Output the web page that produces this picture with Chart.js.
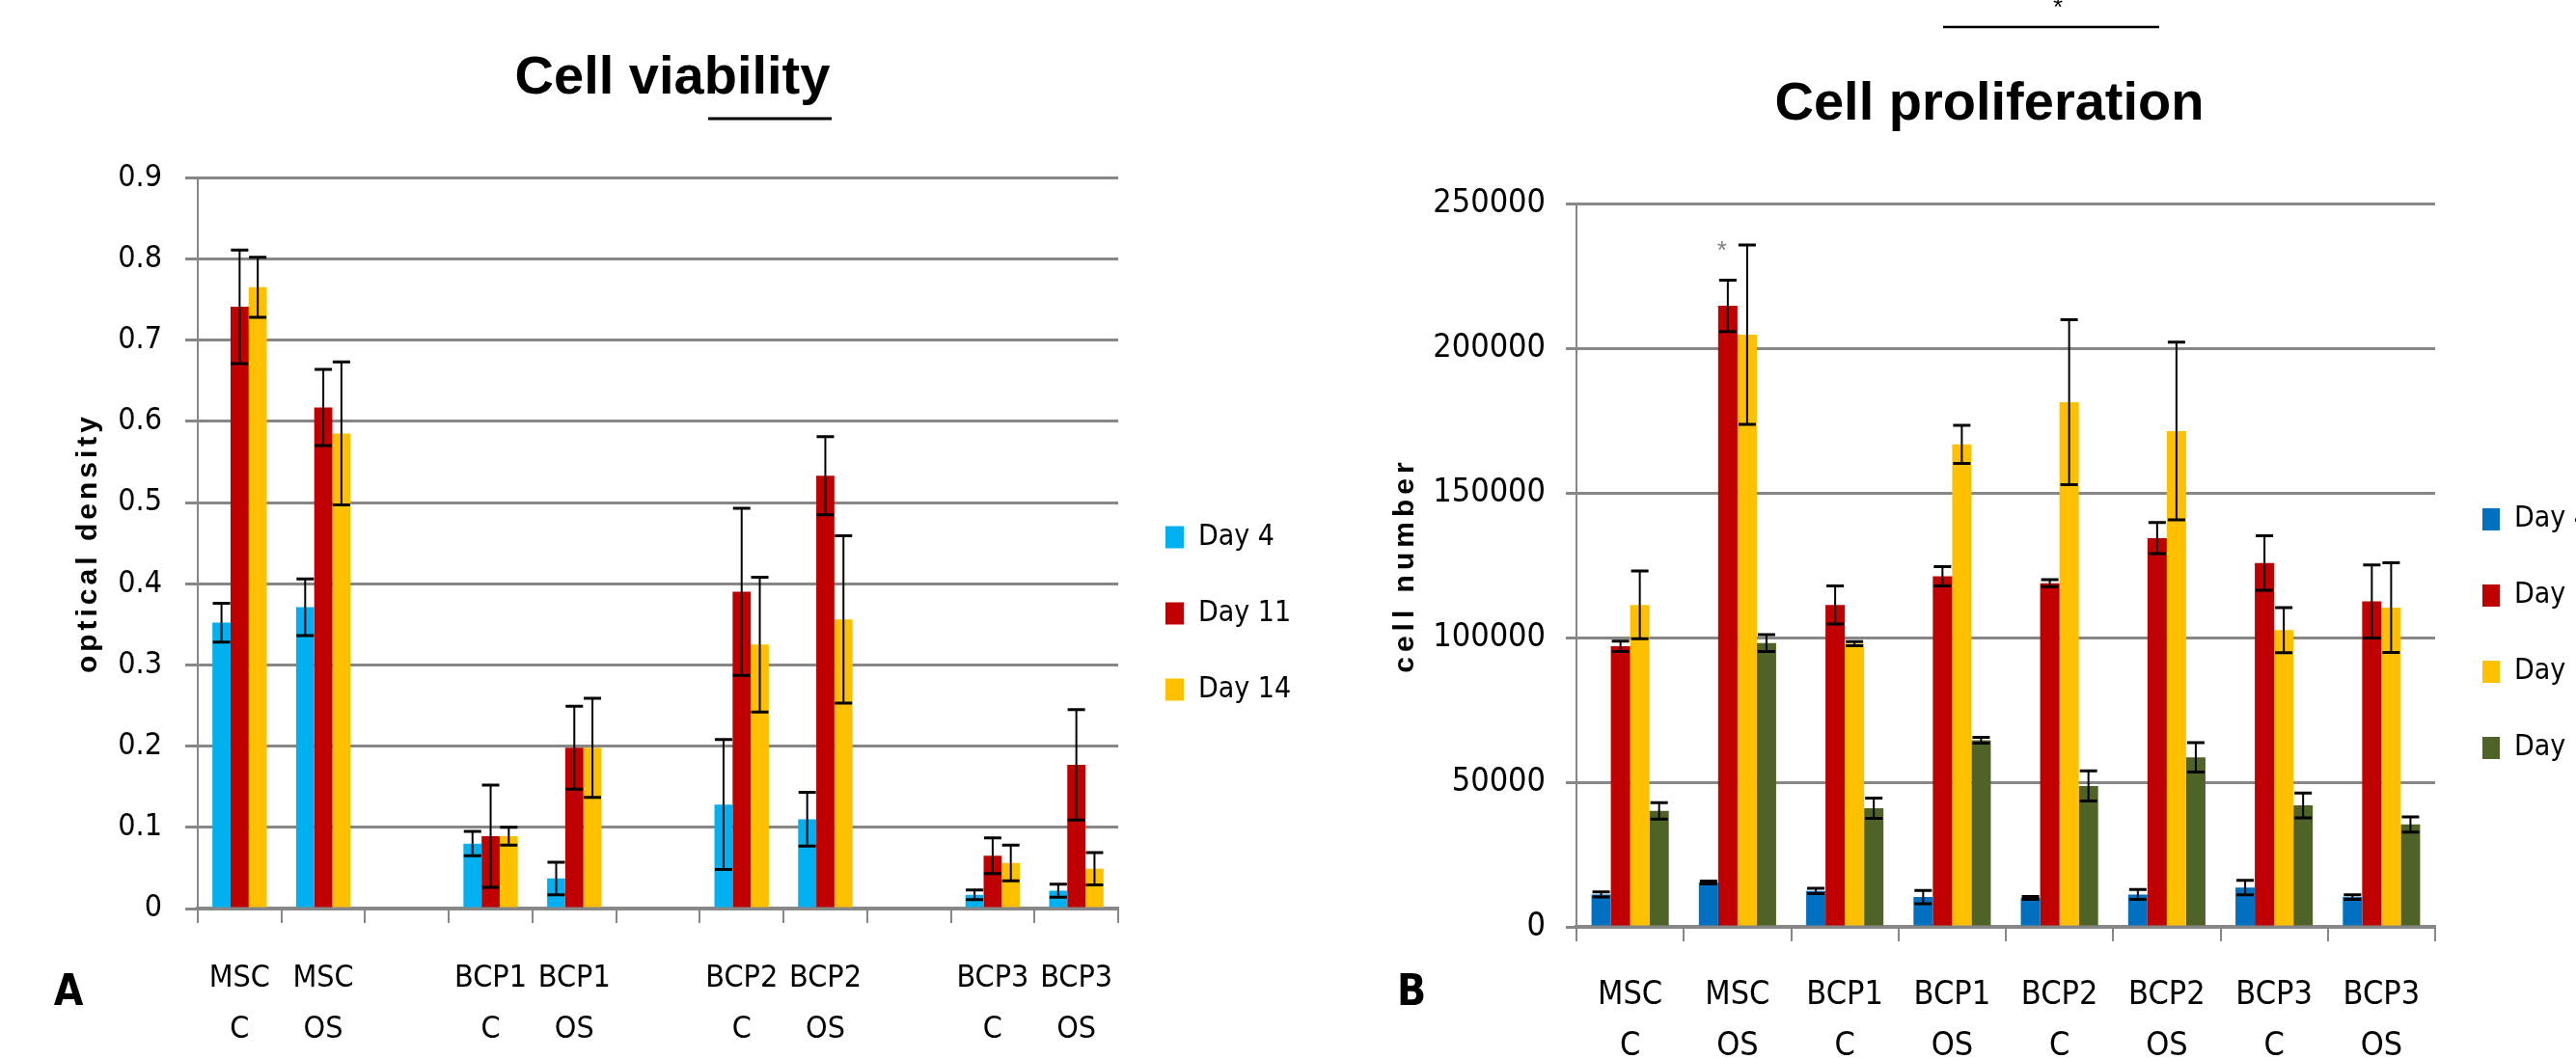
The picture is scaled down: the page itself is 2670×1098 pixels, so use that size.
<!DOCTYPE html>
<html>
<head>
<meta charset="utf-8">
<script src="https://cdn.jsdelivr.net/npm/chart.js@4"></script>
<style>
  html, body { margin: 0; padding: 0; background: #fff; overflow: hidden; width: 2670px; height: 1098px; }
  canvas { position: absolute; top: 0; }
  #viability { left: 0; }
  #proliferation { left: 1400px; }
</style>
</head>
<body>
<canvas id="viability" width="1338" height="1098"></canvas>
<canvas id="proliferation" width="1302" height="1098"></canvas>
<script>
// panel A - cell viability (optical density)
var viabilityLabels = [['MSC', 'C'], ['MSC', 'OS'], '', ['BCP1', 'C'], ['BCP1', 'OS'], '', ['BCP2', 'C'], ['BCP2', 'OS'], '', ['BCP3', 'C'], ['BCP3', 'OS']];
var viabilityDay4 = [0.352, 0.371, null, 0.080, 0.037, null, 0.128, 0.110, null, 0.017, 0.022];
var viabilityDay4Err = [0.024, 0.035, null, 0.015, 0.020, null, 0.080, 0.033, null, 0.006, 0.008];
var viabilityDay11 = [0.741, 0.617, null, 0.089, 0.198, null, 0.390, 0.533, null, 0.065, 0.177];
var viabilityDay11Err = [0.070, 0.047, null, 0.063, 0.051, null, 0.103, 0.048, null, 0.022, 0.068];
var viabilityDay14 = [0.765, 0.585, null, 0.089, 0.198, null, 0.325, 0.356, null, 0.056, 0.049];
var viabilityDay14Err = [0.037, 0.088, null, 0.011, 0.061, null, 0.083, 0.103, null, 0.022, 0.020];

// panel B - cell proliferation (cell number)
var prolifLabels = [['MSC', 'C'], ['MSC', 'OS'], ['BCP1', 'C'], ['BCP1', 'OS'], ['BCP2', 'C'], ['BCP2', 'OS'], ['BCP3', 'C'], ['BCP3', 'OS']];
var prolifDay4 = [11200, 15300, 12400, 10300, 10000, 11200, 13600, 10300];
var prolifDay4Err = [900, 500, 900, 2300, 500, 1700, 2500, 800];
var prolifDay7 = [97000, 214700, 111300, 121200, 118800, 134400, 125800, 112500];
var prolifDay7Err = [1800, 8900, 6600, 3300, 1200, 5400, 9400, 12600];
var prolifDay11 = [111300, 204700, 97900, 166800, 181400, 171400, 102600, 110400];
var prolifDay11Err = [11700, 31000, 700, 6600, 28500, 30700, 7800, 15500];
var prolifDay14 = [40100, 98100, 41000, 64500, 48700, 58600, 42000, 35400];
var prolifDay14Err = [2800, 2900, 3500, 1000, 5200, 5100, 4300, 2600];

var NARROW = "'DejaVu Sans Condensed', 'Liberation Sans Narrow', sans-serif";
var WIDE = "'Liberation Sans', Arial, sans-serif";
var GRID = '#878787';

Chart.defaults.font.family = NARROW;
Chart.defaults.color = '#000';

// black error bars with caps, read from dataset.errors
var errorBars = {
    id: 'errorBars',
    afterDatasetsDraw: function(chart) {
        var ctx = chart.ctx;
        var y = chart.scales.y;
        chart.data.datasets.forEach(function(ds, i) {
            var meta = chart.getDatasetMeta(i);
            meta.data.forEach(function(bar, j) {
                var v = ds.data[j], e = ds.errors[j];
                if (v == null || e == null) return;
                var top = y.getPixelForValue(v + e);
                var bot = y.getPixelForValue(v - e);
                ctx.save();
                ctx.strokeStyle = '#000';
                ctx.lineWidth = 2;
                ctx.beginPath();
                ctx.moveTo(bar.x, top);
                ctx.lineTo(bar.x, bot);
                ctx.stroke();
                ctx.lineWidth = 3;
                ctx.beginPath();
                ctx.moveTo(bar.x - 9, top);
                ctx.lineTo(bar.x + 9, top);
                ctx.moveTo(bar.x - 9, bot);
                ctx.lineTo(bar.x + 9, bot);
                ctx.stroke();
                ctx.restore();
            });
        });
    }
};

// keep the legend column at a set width so the plot area lands where it should
var fixedLegend = {
    id: 'fixedLegend',
    beforeLayout: function(chart, args, opts) {
        var lg = chart.legend;
        if (!lg || lg._fixed) return;
        var fit = lg.fit;
        lg.fit = function() {
            fit.call(this);
            this.width = opts.width;
        };
        lg._fixed = true;
    }
};

// axis title with letter spacing, panel letter, stray marks of the figure
var decor = {
    id: 'decor',
    afterDraw: function(chart, args, opts) {
        var ctx = chart.ctx;
        var y = chart.scales.y;
        ctx.save();
        ctx.translate(opts.axisTitleX, (y.top + y.bottom) / 2);
        ctx.rotate(-Math.PI / 2);
        ctx.font = 'bold 30px ' + WIDE;
        ctx.letterSpacing = opts.spacing;
        ctx.textAlign = 'center';
        ctx.textBaseline = 'middle';
        ctx.fillStyle = '#000';
        ctx.fillText(opts.axisTitle, 0, 0);
        ctx.restore();

        ctx.save();
        ctx.font = 'bold 44px ' + NARROW;
        ctx.textAlign = 'center';
        ctx.textBaseline = 'middle';
        ctx.fillStyle = '#000';
        ctx.fillText(opts.letter, opts.letterX, opts.letterY);

        ctx.strokeStyle = '#000';
        ctx.lineWidth = opts.line[3];
        ctx.beginPath();
        ctx.moveTo(opts.line[0], opts.line[2]);
        ctx.lineTo(opts.line[1], opts.line[2]);
        ctx.stroke();

        if (opts.topStar) {
            ctx.font = '26px ' + WIDE;
            ctx.fillText('*', opts.topStar[0], opts.topStar[1]);
        }
        if (opts.star) {
            var ds = chart.data.datasets[opts.star.dataset];
            var bar = chart.getDatasetMeta(opts.star.dataset).data[opts.star.index];
            var v = ds.data[opts.star.index] + ds.errors[opts.star.index];
            ctx.font = '26px ' + WIDE;
            ctx.fillStyle = '#7f7f7f';
            ctx.fillText('*', bar.x - 6, y.getPixelForValue(v) - 30);
        }
        ctx.restore();
    }
};

function xScale(fontSize, lineHeight, padding, height) {
    return {
        grid: { display: true, drawOnChartArea: false, drawTicks: true, tickLength: 15, offset: true, color: GRID, lineWidth: 2 },
        border: { display: true, color: GRID, width: 4 },
        ticks: { autoSkip: false, maxRotation: 0, padding: padding, font: { size: fontSize, lineHeight: lineHeight }, color: '#000' },
        afterFit: function(scale) { scale.height = height; }
    };
}

window.chart_viability = new Chart(document.getElementById('viability'), {
    type: 'bar',
    data: {
        labels: viabilityLabels,
        datasets: [{
            label: 'Day 4',
            data: viabilityDay4,
            errors: viabilityDay4Err,
            backgroundColor: '#00B0F0'
        }, {
            label: 'Day 11',
            data: viabilityDay11,
            errors: viabilityDay11Err,
            backgroundColor: '#C00000'
        }, {
            label: 'Day 14',
            data: viabilityDay14,
            errors: viabilityDay14Err,
            backgroundColor: '#FFC000'
        }]
    },
    options: {
        responsive: false,
        animation: false,
        devicePixelRatio: 1,
        layout: { padding: { left: 56, right: 0, top: 0, bottom: 0 } },
        datasets: { bar: { categoryPercentage: 0.65, barPercentage: 1 } },
        plugins: {
            title: {
                display: true,
                text: 'Cell viability',
                font: { family: WIDE, size: 56, weight: 'bold' },
                padding: { top: 48, bottom: 69 },
                color: '#000'
            },
            legend: {
                position: 'right',
                title: { display: true, text: ' ', font: { size: 10 }, padding: 81 },
                labels: { boxWidth: 19, boxHeight: 23, padding: 49, font: { size: 30 }, color: '#000' }
            },
            fixedLegend: { width: 179 },
            tooltip: { enabled: false },
            decor: {
                axisTitle: 'optical density',
                axisTitleX: 92,
                spacing: '4px',
                letter: 'A', letterX: 71, letterY: 1031,
                line: [734, 862, 123, 3]
            }
        },
        scales: {
            x: xScale(32, 1.63, 32, 156),
            y: {
                min: 0,
                max: 0.9,
                ticks: { stepSize: 0.1, padding: 24, font: { size: 32 }, color: '#000' },
                grid: { color: GRID, lineWidth: 3, tickLength: 13 },
                border: { display: true, color: GRID, width: 2 },
                afterFit: function(scale) { scale.width = 149; }
            }
        }
    },
    plugins: [errorBars, fixedLegend, decor]
});

window.chart_proliferation = new Chart(document.getElementById('proliferation'), {
    type: 'bar',
    data: {
        labels: prolifLabels,
        datasets: [{
            label: 'Day 4',
            data: prolifDay4,
            errors: prolifDay4Err,
            backgroundColor: '#0070C0'
        }, {
            label: 'Day 7',
            data: prolifDay7,
            errors: prolifDay7Err,
            backgroundColor: '#C00000'
        }, {
            label: 'Day 11',
            data: prolifDay11,
            errors: prolifDay11Err,
            backgroundColor: '#FFC000'
        }, {
            label: 'Day 14',
            data: prolifDay14,
            errors: prolifDay14Err,
            backgroundColor: '#4F6228'
        }]
    },
    options: {
        responsive: false,
        animation: false,
        devicePixelRatio: 1,
        layout: { padding: { left: 22, right: 0, top: 0, bottom: 0 } },
        datasets: { bar: { categoryPercentage: 0.72, barPercentage: 1 } },
        plugins: {
            title: {
                display: true,
                text: 'Cell proliferation',
                font: { family: WIDE, size: 56, weight: 'bold' },
                padding: { top: 75, bottom: 69 },
                color: '#000'
            },
            legend: {
                position: 'right',
                title: { display: true, text: ' ', font: { size: 10 }, padding: 102 },
                labels: { boxWidth: 18, boxHeight: 23, padding: 49, font: { size: 30 }, color: '#000' }
            },
            fixedLegend: { width: 178 },
            tooltip: { enabled: false },
            decor: {
                axisTitle: 'cell number',
                axisTitleX: 57,
                spacing: '5px',
                letter: 'B', letterX: 63, letterY: 1031,
                line: [614, 838, 28, 2.5],
                topStar: [733, 9],
                star: { dataset: 1, index: 1 }
            }
        },
        scales: {
            x: xScale(34, 1.56, 30, 137),
            y: {
                min: 0,
                max: 250000,
                ticks: { stepSize: 50000, padding: 21, font: { size: 34 }, color: '#000',
                    callback: function(v) { return String(v); } },
                grid: { color: GRID, lineWidth: 3, tickLength: 11 },
                border: { display: true, color: GRID, width: 2 },
                afterFit: function(scale) { scale.width = 212; }
            }
        }
    },
    plugins: [errorBars, fixedLegend, decor]
});
</script>
</body>
</html>
